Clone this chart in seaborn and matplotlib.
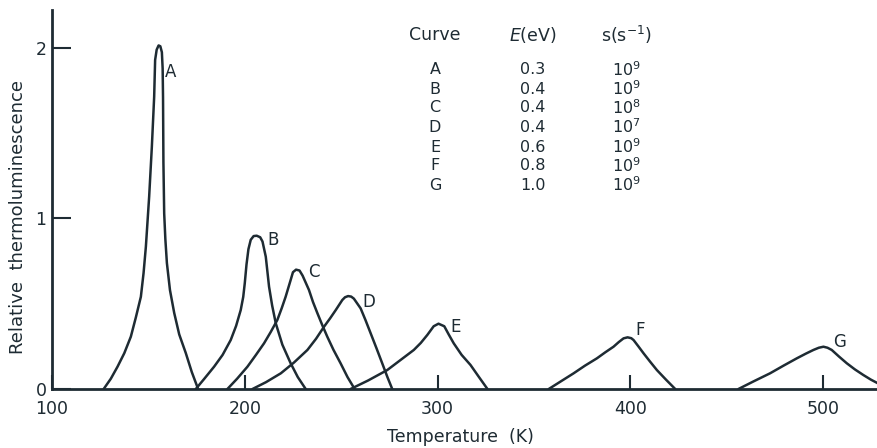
import matplotlib
matplotlib.use("Agg")
import matplotlib.pyplot as plt
import seaborn as sns
import pandas as pd

# ---- data ----
A_T = [126.8, 130.5, 134.0, 137.5, 140.9, 143.5, 146.1, 147.5, 148.7, 150.4, 151.8, 153.0, 153.5, 154.3, 155.3, 156.2, 157.0, 157.4, 157.6, 157.8, 158.2, 158.8, 159.6, 161.2, 163.4, 166.0, 169.4, 172.5, 175.8]
A_I = [0.0, 0.06, 0.131, 0.21, 0.307, 0.42, 0.541, 0.68, 0.835, 1.128, 1.421, 1.714, 1.93, 1.99, 2.015, 2.01, 1.975, 1.88, 1.71, 1.33, 1.03, 0.88, 0.739, 0.58, 0.446, 0.32, 0.211, 0.10, 0.0]
B_T = [174.6, 179.0, 184.1, 188.5, 192.7, 195.5, 197.9, 199.2, 200.0, 200.9, 201.9, 203.1, 204.6, 206.2, 208.0, 209.2, 210.9, 212.6, 214.2, 216.1, 219.5, 223.8, 227.5, 231.6]
B_I = [0.0, 0.06, 0.131, 0.20, 0.287, 0.37, 0.463, 0.54, 0.62, 0.73, 0.82, 0.875, 0.897, 0.899, 0.89, 0.865, 0.776, 0.600, 0.49, 0.385, 0.26, 0.151, 0.07, 0.0]
C_T = [191.0, 196.0, 201.4, 205.8, 210.0, 213.5, 216.9, 219.2, 221.2, 223.8, 225.0, 226.6, 228.4, 230.0, 233.3, 235.4, 237.7, 240.2, 242.8, 246.0, 249.7, 253.3, 257.0]
C_I = [0.0, 0.06, 0.131, 0.20, 0.268, 0.335, 0.405, 0.475, 0.541, 0.639, 0.685, 0.700, 0.695, 0.665, 0.581, 0.51, 0.444, 0.375, 0.307, 0.23, 0.151, 0.07, 0.0]
D_T = [204.0, 211.0, 218.7, 225.5, 232.5, 237.0, 241.1, 244.3, 247.2, 250.6, 252.0, 253.6, 255.2, 256.6, 260.1, 262.6, 265.3, 268.3, 271.3, 274.0, 276.5]
D_I = [0.0, 0.04, 0.092, 0.155, 0.229, 0.295, 0.365, 0.415, 0.463, 0.522, 0.538, 0.545, 0.542, 0.530, 0.473, 0.405, 0.327, 0.24, 0.151, 0.07, 0.0]
E_T = [254.9, 264.0, 273.9, 280.8, 287.7, 291.3, 294.7, 298.0, 300.5, 303.5, 305.8, 308.4, 312.5, 317.1, 321.5, 325.9]
E_I = [0.0, 0.05, 0.111, 0.170, 0.229, 0.27, 0.317, 0.368, 0.383, 0.368, 0.32, 0.268, 0.20, 0.141, 0.07, 0.0]
F_T = [357.7, 364.0, 370.6, 376.5, 382.7, 387.0, 391.3, 394.0, 396.5, 398.6, 400.5, 401.7, 404.2, 406.9, 410.3, 413.8, 418.5, 423.3]
F_I = [0.0, 0.045, 0.092, 0.137, 0.180, 0.215, 0.248, 0.275, 0.297, 0.303, 0.298, 0.287, 0.25, 0.209, 0.16, 0.111, 0.055, 0.0]
G_T = [456.1, 464.0, 472.5, 479.5, 486.4, 491.0, 495.0, 497.8, 500.2, 502.3, 504.5, 508.3, 512.3, 516.5, 520.9, 524.8, 528.5, 533.0]
G_I = [0.0, 0.045, 0.092, 0.137, 0.180, 0.207, 0.229, 0.242, 0.248, 0.242, 0.229, 0.19, 0.151, 0.115, 0.082, 0.055, 0.033, 0.0]

curve_names = ["A", "B", "C", "D", "E", "F", "G"]
energies = ["0.3", "0.4", "0.4", "0.4", "0.6", "0.8", "1.0"]
s_exponents = ["9", "9", "8", "7", "9", "9", "9"]
x_ticks = [100, 200, 300, 400, 500]
y_ticks = [0, 1, 2]
x_label = "Temperature  (K)"
y_label = "Relative  thermoluminescence"

curves = {"A": (A_T, A_I), "B": (B_T, B_I), "C": (C_T, C_I), "D": (D_T, D_I),
          "E": (E_T, E_I), "F": (F_T, F_I), "G": (G_T, G_I)}
label_pos = {"A": (161.7, 1.86), "B": (214.5, 0.874), "C": (235.8, 0.686),
             "D": (264.2, 0.51), "E": (309.3, 0.364), "F": (405.2, 0.346),
             "G": (508.8, 0.276)}

# ---- drawing ----
sns.set_style("ticks")
plt.rcParams["font.family"] = ["DejaVu Sans"]
INK = "#1e2b33"

fig = plt.figure(figsize=(8.78, 4.48), dpi=100)
ax = fig.add_axes([52 / 878, 1 - 389 / 448, 1 - 52 / 878, (389 - 10) / 448])

for name in curve_names:
    T, I = curves[name]
    df = pd.DataFrame({"T": T, "I": I})
    sns.lineplot(data=df, x="T", y="I", ax=ax, color=INK, lw=1.8,
                 sort=False, estimator=None, solid_joinstyle="round",
                 solid_capstyle="round", clip_on=True)
    lx, ly = label_pos[name]
    ax.text(lx, ly, name, fontsize=12, color=INK, ha="center", va="center")

ax.set_xlim(100, 528.5)
ax.set_ylim(0, (389 - 10) / 170.5)
ax.set_xticks(x_ticks)
ax.set_yticks(y_ticks)
ax.set_xticklabels([str(v) for v in x_ticks])
ax.set_yticklabels([str(v) for v in y_ticks])
ax.tick_params(axis="x", direction="in", length=10, width=1.5, colors=INK,
               labelsize=12.5, pad=8)
ax.tick_params(axis="y", direction="in", length=14, width=1.5, colors=INK,
               labelsize=12.5, pad=4)
for side in ["top", "right"]:
    ax.spines[side].set_visible(False)
for side in ["left", "bottom"]:
    ax.spines[side].set_linewidth(2.0)
    ax.spines[side].set_color(INK)

ax.set_xlabel("")
ax.set_ylabel("")
fig.text(460 / 878, 1 - 437 / 448, x_label, ha="center", va="center",
         fontsize=12.5, color=INK)
fig.text(18 / 878, 1 - 217 / 448, y_label, ha="center", va="center",
         rotation=90, fontsize=13, color=INK)

# table
hdr_y = 35
fig.text(435 / 878, 1 - hdr_y / 448, "Curve", ha="center", va="center", fontsize=12.5, color=INK)
fig.text(533 / 878, 1 - hdr_y / 448, "$E$(eV)", ha="center", va="center", fontsize=12.5, color=INK)
fig.text(626 / 878, 1 - hdr_y / 448, "s(s$^{-1}$)", ha="center", va="center", fontsize=12.5, color=INK)
row_y = [70, 89, 108, 127, 147, 166, 185]
for name, e, s, yy in zip(curve_names, energies, s_exponents, row_y):
    fig.text(435 / 878, 1 - yy / 448, name, ha="center", va="center", fontsize=11.5, color=INK)
    fig.text(533 / 878, 1 - yy / 448, e, ha="center", va="center", fontsize=11.5, color=INK)
    fig.text(626 / 878, 1 - yy / 448, "10$^{%s}$" % s, ha="center", va="center", fontsize=11.5, color=INK)

fig.savefig("out.png", dpi=100)
